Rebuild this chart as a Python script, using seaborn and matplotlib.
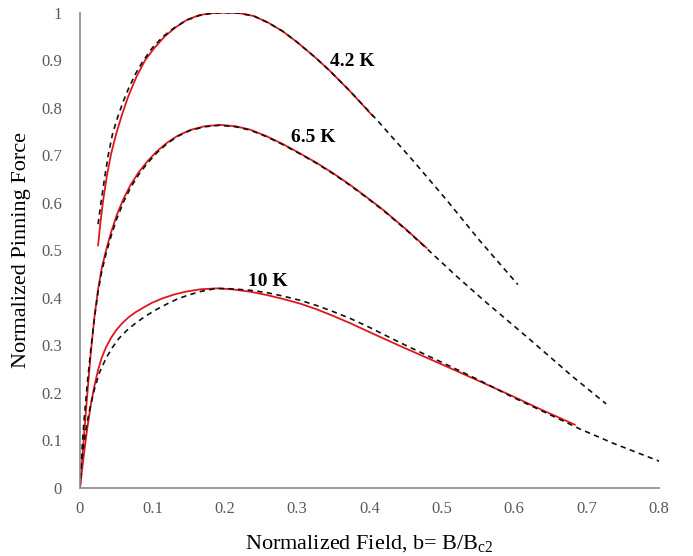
import matplotlib
matplotlib.use("Agg")
import matplotlib.pyplot as plt
import seaborn as sns
import pandas as pd

# ---- data ----
b_42_meas = [0.025, 0.028, 0.032, 0.037, 0.043, 0.050, 0.058, 0.067, 0.078, 0.090, 0.103, 0.117,
             0.132, 0.148, 0.165, 0.183, 0.200, 0.220, 0.240, 0.260, 0.280, 0.300, 0.325, 0.345,
             0.373, 0.405]
f_42_meas = [0.51, 0.555, 0.605, 0.655, 0.703, 0.745, 0.785, 0.825, 0.865, 0.900, 0.926, 0.950,
             0.969, 0.985, 0.995, 0.999, 1.0, 0.999, 0.993, 0.979, 0.961, 0.938, 0.906, 0.878,
             0.835, 0.782]

b_42_fit = [0.025, 0.029, 0.034, 0.039, 0.045, 0.052, 0.059, 0.067, 0.077, 0.087, 0.100, 0.115,
            0.130, 0.147, 0.165, 0.183, 0.200, 0.220, 0.240, 0.260, 0.280, 0.300, 0.325, 0.345,
            0.373, 0.405, 0.414, 0.460, 0.506, 0.552, 0.605]
f_42_fit = [0.555, 0.600, 0.652, 0.700, 0.745, 0.780, 0.810, 0.840, 0.872, 0.898, 0.926, 0.950,
            0.968, 0.984, 0.994, 0.999, 1.0, 0.999, 0.993, 0.979, 0.961, 0.938, 0.906, 0.878,
            0.835, 0.783, 0.768, 0.689, 0.607, 0.521, 0.428]

b_65_meas = [0.0, 0.005, 0.010, 0.015, 0.020, 0.025, 0.030, 0.036, 0.043, 0.051, 0.060, 0.070,
             0.081, 0.093, 0.106, 0.120, 0.135, 0.152, 0.172, 0.193, 0.215, 0.235, 0.258, 0.281,
             0.304, 0.327, 0.350, 0.373, 0.396, 0.419, 0.450, 0.479]
f_65_meas = [0.0, 0.10, 0.195, 0.285, 0.360, 0.418, 0.462, 0.500, 0.538, 0.575, 0.608, 0.638,
             0.664, 0.687, 0.708, 0.726, 0.741, 0.753, 0.761, 0.764, 0.761, 0.754, 0.740, 0.723,
             0.704, 0.684, 0.662, 0.638, 0.612, 0.585, 0.545, 0.505]

b_65_fit = [0.0, 0.002, 0.0055, 0.010, 0.015, 0.020, 0.025, 0.030, 0.036, 0.043, 0.051, 0.060,
            0.070, 0.081, 0.093, 0.106, 0.120, 0.135, 0.152, 0.172, 0.193, 0.215, 0.235, 0.258,
            0.281, 0.304, 0.327, 0.350, 0.373, 0.396, 0.419, 0.450, 0.481, 0.520, 0.557, 0.622,
            0.681, 0.727]
f_65_fit = [0.0, 0.065, 0.140, 0.218, 0.292, 0.358, 0.413, 0.455, 0.493, 0.530, 0.567, 0.601,
            0.632, 0.659, 0.683, 0.705, 0.724, 0.740, 0.752, 0.760, 0.763, 0.760, 0.753, 0.739,
            0.722, 0.703, 0.683, 0.661, 0.637, 0.611, 0.584, 0.544, 0.501, 0.446, 0.396, 0.312,
            0.234, 0.177]

b_10_meas = [0.0, 0.005, 0.010, 0.015, 0.020, 0.025, 0.030, 0.036, 0.043, 0.050, 0.058, 0.067,
             0.077, 0.088, 0.100, 0.114, 0.130, 0.146, 0.166, 0.189, 0.210, 0.235, 0.258, 0.280,
             0.304, 0.327, 0.350, 0.373, 0.400, 0.442, 0.506, 0.550, 0.598, 0.640, 0.684]
f_10_meas = [0.0, 0.065, 0.125, 0.175, 0.215, 0.248, 0.274, 0.296, 0.316, 0.332, 0.346, 0.359,
             0.370, 0.380, 0.390, 0.399, 0.407, 0.413, 0.418, 0.420, 0.418, 0.413, 0.406, 0.398,
             0.388, 0.376, 0.362, 0.347, 0.328, 0.299, 0.256, 0.226, 0.193, 0.163, 0.133]

b_10_fit = [0.0, 0.002, 0.005, 0.009, 0.014, 0.020, 0.027, 0.036, 0.045, 0.054, 0.065, 0.077,
            0.090, 0.105, 0.120, 0.135, 0.150, 0.168, 0.189, 0.210, 0.235, 0.258, 0.280, 0.304,
            0.327, 0.350, 0.373, 0.400, 0.442, 0.506, 0.550, 0.598, 0.640, 0.691, 0.737, 0.801]
f_10_fit = [0.0, 0.05, 0.09, 0.13, 0.17, 0.208, 0.243, 0.273, 0.296, 0.315, 0.332, 0.347,
            0.361, 0.375, 0.387, 0.398, 0.406, 0.414, 0.420, 0.419, 0.416, 0.411, 0.404, 0.395,
            0.384, 0.371, 0.357, 0.338, 0.306, 0.260, 0.228, 0.191, 0.161, 0.124, 0.094, 0.056]

temp_labels = ["4.2 K", "6.5 K", "10 K"]
x_ticks = [0, 0.1, 0.2, 0.3, 0.4, 0.5, 0.6, 0.7, 0.8]
y_ticks = [0, 0.1, 0.2, 0.3, 0.4, 0.5, 0.6, 0.7, 0.8, 0.9, 1]
x_label = "Normalized Field, b= B/B$_\\mathregular{c2}$"
y_label = "Normalized Pinning Force"

# ---- build long tables ----
def tab(b, f, name):
    return pd.DataFrame({"b": b, "F": f, "curve": name})

meas = pd.concat([tab(b_42_meas, f_42_meas, "4.2 K"),
                  tab(b_65_meas, f_65_meas, "6.5 K"),
                  tab(b_10_meas, f_10_meas, "10 K")], ignore_index=True)
fit = pd.concat([tab(b_42_fit, f_42_fit, "4.2 K"),
                 tab(b_65_fit, f_65_fit, "6.5 K"),
                 tab(b_10_fit, f_10_fit, "10 K")], ignore_index=True)

sns.set_style("white")
plt.rcParams["font.family"] = ["Liberation Serif", "DejaVu Serif"]
plt.rcParams["mathtext.fontset"] = "stix"

fig = plt.figure(figsize=(6.93, 5.56), dpi=100)
ax = fig.add_axes([0.1154, 0.1223, 0.8355, 0.8549])

red = "#e0161e"
for name in temp_labels:
    sns.lineplot(data=meas[meas.curve == name], x="b", y="F", sort=False, estimator=None,
                 color=red, lw=1.3, ax=ax, legend=False)
for name in temp_labels:
    sns.lineplot(data=fit[fit.curve == name], x="b", y="F", sort=False, estimator=None,
                 color="#111111", lw=1.2, ax=ax, legend=False)
for ln in ax.lines[3:]:
    ln.set_dashes((3.2, 2.6))
for ln in ax.lines:
    ln.set_solid_joinstyle("round")

ax.set_xlim(0, 0.8)
ax.set_ylim(0, 1)
ax.set_xticks(x_ticks)
ax.set_xticklabels([("%g" % t) for t in x_ticks])
ax.set_yticks(y_ticks)
ax.set_yticklabels([("%g" % t) for t in y_ticks])

for s in ["top", "right"]:
    ax.spines[s].set_visible(False)
for s in ["left", "bottom"]:
    ax.spines[s].set_color("#8a8a8a")
    ax.spines[s].set_linewidth(1.2)
ax.tick_params(axis="both", direction="in", length=4, width=1.0, color="#8a8a8a",
               labelsize=12, labelcolor="#595959")
ax.tick_params(axis="y", pad=13)
ax.tick_params(axis="x", pad=9)

ax.set_xlabel(x_label, fontsize=16, color="black", labelpad=12)
ax.set_ylabel(y_label, fontsize=16, color="black", labelpad=7)

ax.text(0.345, 0.897, temp_labels[0], fontsize=14, fontweight="bold", va="center", ha="left", color="black")
ax.text(0.292, 0.738, temp_labels[1], fontsize=14, fontweight="bold", va="center", ha="left", color="black")
ax.text(0.232, 0.435, temp_labels[2], fontsize=14, fontweight="bold", va="center", ha="left", color="black")

fig.savefig("out.png", dpi=100)
